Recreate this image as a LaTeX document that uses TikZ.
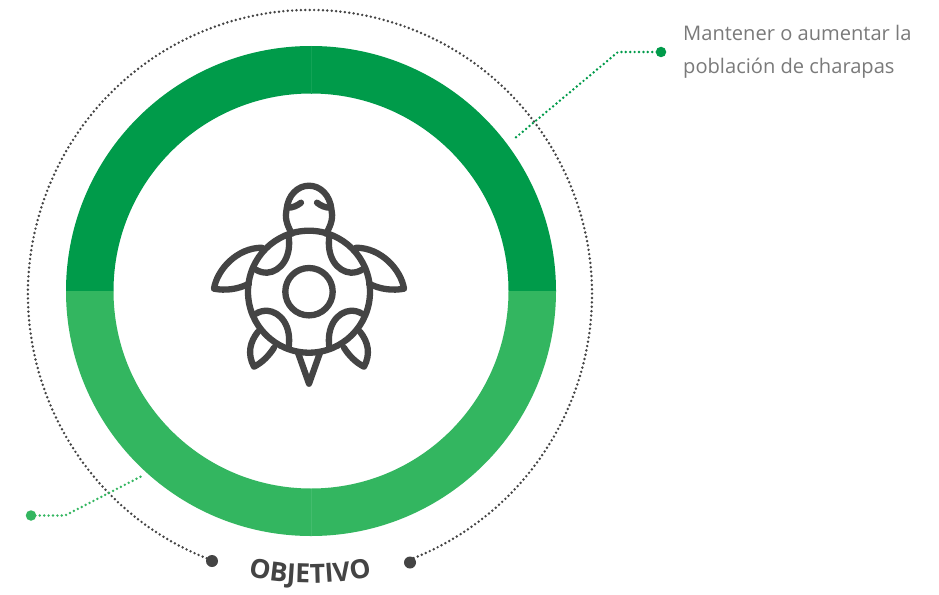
\documentclass[tikz,border=0pt]{standalone}
\usepackage{fontspec}
\setmainfont{Open Sans}
\usetikzlibrary{decorations.text}
\definecolor{gdark}{HTML}{009B4A}
\definecolor{glight}{HTML}{33B660}
\definecolor{seamd}{HTML}{12A356}
\definecolor{seaml}{HTML}{43BC6D}
\definecolor{ink}{HTML}{444444}
\definecolor{txt}{HTML}{7A7A7A}
\tikzset{x=1pt,y=1pt,
  dots/.style={line width=2.7pt,line cap=round,dash pattern=on 0pt off 4.4pt},
  blob/.style={circle,inner sep=0pt,minimum size=#1,fill},
  turtle/.style={draw=ink,line width=6.3pt,line cap=round,line join=round,fill=none},
  label/.style={font=\fontsize{20.1}{32.6}\selectfont,text=txt,align=left,anchor=north west,inner sep=0pt}
}
\begin{document}
\begin{tikzpicture}
\useasboundingbox (0,-594) rectangle (939,0);
\fill[white] (0,-594) rectangle (939,0);
% ring
\fill[gdark] (66,-291) arc[start angle=180,end angle=0,radius=245] -- (508.5,-291) arc[start angle=0,end angle=180,radius=197.5] -- cycle;
\fill[glight] (66,-291) arc[start angle=180,end angle=360,radius=245] -- (508.5,-291) arc[start angle=360,end angle=180,radius=197.5] -- cycle;
\draw[seamd,line width=0.6pt] (311,-46) -- (311,-93.5);
\draw[seaml,line width=0.6pt] (311,-488.5) -- (311,-536);
% outer dotted arc
\node[blob=12pt,fill=ink] (dl) at (212,-561) {};
\node[blob=12pt,fill=ink] (dr) at (410,-562.5) {};
\coordinate (arcstart) at (213.5,-560.9);
\draw[dots,ink] (dl.center) -- (arcstart) arc[start angle=-110,delta angle=-320,x radius=282,y radius=284] -- (dr.center);
% green leaders
\node[blob=10.5pt,gdark] (g1) at (661,-52) {};
\coordinate (g1b) at (618,-52);
\coordinate (g1e) at (514,-139);
\draw[dots,gdark] (g1.center) -- (g1b) -- (g1e);
\node[blob=10.5pt,glight] (g2) at (31,-515.5) {};
\coordinate (g2b) at (65,-515.5);
\coordinate (g2e) at (142,-476);
\draw[dots,glight] (g2.center) -- (g2b) -- (g2e);
% text
\node[label] (t1) at (683,-25.5) {Mantener o aumentar la\\población de charapas};
\path[decorate,decoration={text along path,text align=center,
  text={|\fontsize{26.5}{26.5}\selectfont\bfseries\color{ink}|OBJETIVO}}]
  (310,-302) ++(228:281) arc[start angle=228,end angle=312,radius=281];
% turtle
\begin{scope}[xshift=309pt,yshift=-291.7pt]
\draw[turtle] (0,0) circle[radius=61];
\draw[turtle] (0,0) circle[radius=23.7];
% head
\draw[turtle] (-17,58) .. controls (-23,68) and (-24,75) .. (-22.5,82) .. controls (-21,97) and (-11,106) .. (0,106) .. controls (11,106) and (21,97) .. (22.5,82) .. controls (24,75) and (23,68) .. (17,58);
\foreach \s in {1,-1}{
 \begin{scope}[xscale=\s]
 \draw[turtle] (-21,84) .. controls (-16,84) and (-12,86) .. (-8,89);
 % shell corners
 \draw[turtle] (-20.5,56.5) .. controls (-17,35) and (-28,20) .. (-42,19) .. controls (-46,19) and (-50,20) .. (-53,22);
 \draw[turtle] (-20.5,-56.5) .. controls (-17,-35) and (-28,-20) .. (-42,-19) .. controls (-46,-19) and (-50,-20) .. (-53,-22);
 % front flipper
 \draw[turtle] (-47,44) .. controls (-72,44) and (-92,22) .. (-95,3) .. controls (-84,1) and (-72,2) .. (-60,8);
 % rear flipper
 \draw[turtle] (-51,-40) .. controls (-59,-50) and (-62,-62) .. (-55,-75) .. controls (-47,-71) and (-40,-64) .. (-35,-56);
 \end{scope}
}
% tail
\draw[turtle] (-11,-61) -- (0,-92) -- (11,-61);
\end{scope}
\end{tikzpicture}
\end{document}
